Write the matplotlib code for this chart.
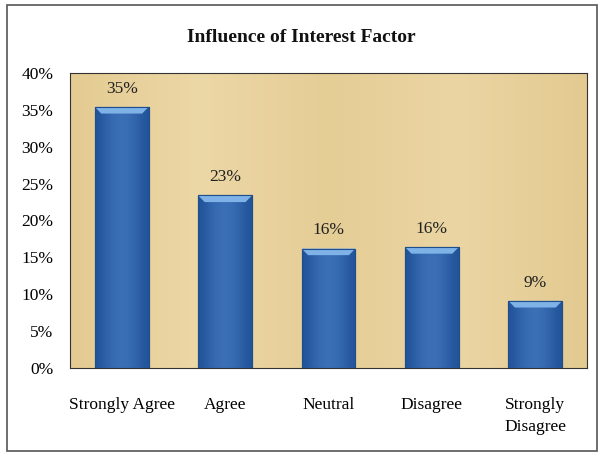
import numpy as np
import matplotlib.pyplot as plt
from matplotlib.patches import Polygon, Rectangle
from matplotlib.ticker import FuncFormatter

categories = ["Strongly Agree", "Agree", "Neutral", "Disagree", "Strongly\nDisagree"]
values = [35.4, 23.4, 16.2, 16.4, 9.1]
value_labels = ["35%", "23%", "16%", "16%", "9%"]
y_ticks = [0, 5, 10, 15, 20, 25, 30, 35, 40]

plt.rcParams['font.family'] = ['Liberation Serif', 'DejaVu Serif']

fig = plt.figure(figsize=(6.02, 4.55), dpi=100)
fig.patch.set_facecolor('white')
# outer frame of the chart
fig.add_artist(Rectangle((0.012, 0.008), 0.980, 0.982, transform=fig.transFigure,
                         fill=False, edgecolor='#555555', linewidth=1.2))

ax = fig.add_axes([70 / 602, 1 - 368 / 455, 517 / 602, 295 / 455])
ax.set_facecolor('#E9D4A1')

# parchment-ish shading behind bars
shade = np.linspace(0, 1, 256).reshape(1, -1)
ax.imshow(np.vstack([shade, shade]), extent=(-0.5, 4.5, 0, 40), aspect='auto',
          cmap=plt.matplotlib.colors.LinearSegmentedColormap.from_list(
              'paper', ['#E4CB92', '#ECD7A6', '#E5CD96', '#EBD5A3', '#E3CA91']),
          zorder=0)

x = np.arange(len(categories))
bars = ax.bar(x, values, width=0.52, color='#2F64AA', edgecolor='#1E4E8C',
              linewidth=0.8, zorder=2)

grad = np.array([[0.0, 0.4, 0.65, 0.75, 0.65, 0.4, 0.0]])
cmap = plt.matplotlib.colors.LinearSegmentedColormap.from_list('bar', ['#22549A', '#4479C0'])
for b in bars:
    x0, w, h = b.get_x(), b.get_width(), b.get_height()
    im = ax.imshow(grad, extent=(x0, x0 + w, 0, h), aspect='auto', cmap=cmap,
                   vmin=0, vmax=1, zorder=3, interpolation='bicubic')
    im.set_clip_path(b)
    # top bevel
    dx = w * 0.12
    dy = 0.9
    bevel = Polygon([(x0, h), (x0 + w, h), (x0 + w - dx, h - dy), (x0 + dx, h - dy)],
                    closed=True, facecolor='#7FB2E6', edgecolor='none', zorder=4)
    ax.add_patch(bevel)
    ax.add_patch(Rectangle((x0, 0), w, h, fill=False, edgecolor='#1E4E8C',
                           linewidth=0.8, zorder=5))

for xi, v, lab in zip(x, values, value_labels):
    ax.text(xi, v + 1.4, lab, ha='center', va='bottom', fontsize=12.5, color='#222222', zorder=6)

ax.set_xlim(-0.5, 4.5)
ax.set_ylim(0, 40)
ax.set_yticks(y_ticks)
ax.yaxis.set_major_formatter(FuncFormatter(lambda v, p: f"{int(v)}%"))
ax.set_xticks(x)
ax.set_xticklabels(categories, fontsize=12.5, linespacing=1.45, va='top')
ax.tick_params(axis='y', length=0, labelsize=12.5, pad=12)
ax.tick_params(axis='x', length=0, pad=21)
for s in ax.spines.values():
    s.set_color('#333333')
    s.set_linewidth(0.8)

fig.text(0.5, 1 - 38 / 455, "Influence of Interest Factor", ha='center', va='center',
         fontsize=14, fontweight='bold', color='#111111')

fig.savefig('out.png', dpi=100)
